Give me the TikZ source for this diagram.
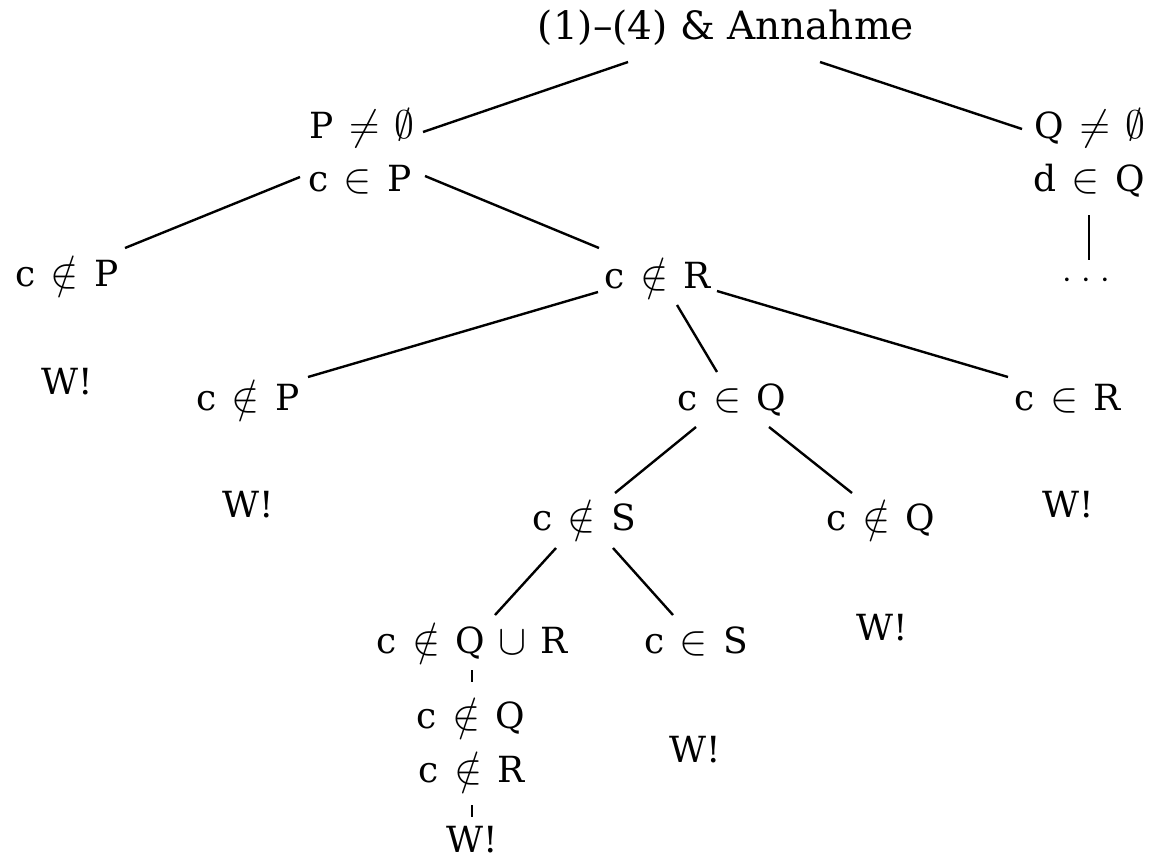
\documentclass[tikz,border=0pt]{standalone}
\usepackage{fontspec}
\setmainfont{DejaVu Serif}
\usetikzlibrary{calc}
\newcommand{\vr}[1]{\mathrm{#1}}
\newcommand{\bigsym}[1]{\raisebox{-0.05em}{\scalebox{1.22}{$#1$}}}
\newcommand{\Nin}{\mathrel{\,\bigsym{\notin}\,}}
\newcommand{\Iin}{\mathrel{\,\bigsym{\in}\,}}
\newcommand{\Neq}{\mathrel{\,\bigsym{\neq}\,}}
\newcommand{\Cup}{\mathbin{\,\bigsym{\cup}\,}}
\newcommand{\Empty}{\mathord{\scalebox{1.15}{$\emptyset$}}}
\begin{document}
\begin{tikzpicture}[x=0.5pt,y=-0.5pt,
  lab/.style={inner sep=0pt,anchor=base,font=\fontsize{18}{22}\selectfont},
  edge/.style={line width=1.2pt}]
\useasboundingbox (0,0) rectangle (1160,857);
% nodes
\node[lab,font=\fontsize{19.5}{23}\selectfont] (root) at (726,39) {(1)–(4) \& Annahme};
\node[lab] (pne) at (362,138) {$\vr{P}\Neq\Empty$};
\node[lab] (cp) at (360,191) {$\vr{c}\Iin\vr{P}$};
\node[lab] (qne) at (1090,138) {$\vr{Q}\Neq\Empty$};
\node[lab] (dq) at (1089,191) {$\vr{d}\Iin\vr{Q}$};
\node[lab] (dots) at (1086,288) {$\mathord{\cdot}\mkern5mu\mathord{\cdot}\mkern5mu\mathord{\cdot}$};
\node[lab] (cnp1) at (67,286) {$\vr{c}\Nin\vr{P}$};
\node[lab] (w1) at (67,394) {W!};
\node[lab] (cnr) at (658,288) {$\vr{c}\Nin\vr{R}$};
\node[lab] (cnp2) at (248,410) {$\vr{c}\Nin\vr{P}$};
\node[lab] (w2) at (248,517) {W!};
\node[lab] (cq) at (732,410) {$\vr{c}\Iin\vr{Q}$};
\node[lab] (cr) at (1068,410) {$\vr{c}\Iin\vr{R}$};
\node[lab] (w3) at (1068,517) {W!};
\node[lab] (cns) at (584,530) {$\vr{c}\Nin\vr{S}$};
\node[lab] (cnq) at (881,530) {$\vr{c}\Nin\vr{Q}$};
\node[lab] (w4) at (882,640) {W!};
\node[lab] (cnqr) at (472,653) {$\vr{c}\Nin\vr{Q}\Cup\vr{R}$};
\node[lab] (cs) at (696,653) {$\vr{c}\Iin\vr{S}$};
\node[lab] (w5) at (695,762) {W!};
\node[lab] (cnq2) at (471,728) {$\vr{c}\Nin\vr{Q}$};
\node[lab] (cnr2) at (472,782) {$\vr{c}\Nin\vr{R}$};
\node[lab] (w6) at (472,852) {W!};
% edges
\draw[edge] ($(root.base)+(-98,23)$) -- ($(pne.base)+(61,-6)$);
\draw[edge] ($(root.base)+(94,23)$) -- ($(qne.base)+(-68,-9)$);
\draw[edge] ($(cp.base)+(-60,-14)$) -- ($(cnp1.base)+(58,-38)$);
\draw[edge] ($(cp.base)+(65,-15)$) -- ($(cnr.base)+(-59,-40)$);
\draw[edge] ($(dq.base)+(0,24)$) -- ($(dots.base)+(3,-28)$);
\draw[edge] ($(cnr.base)+(-60,4)$) -- ($(cnp2.base)+(60,-33)$);
\draw[edge] ($(cnr.base)+(19,17)$) -- ($(cq.base)+(-15,-38)$);
\draw[edge] ($(cnr.base)+(59,3)$) -- ($(cr.base)+(-60,-33)$);
\draw[edge] ($(cq.base)+(-36,17)$) -- ($(cns.base)+(31,-37)$);
\draw[edge] ($(cq.base)+(37,17)$) -- ($(cnq.base)+(-29,-37)$);
\draw[edge] ($(cns.base)+(-28,18)$) -- ($(cnqr.base)+(23,-38)$);
\draw[edge] ($(cns.base)+(29,18)$) -- ($(cs.base)+(-23,-38)$);
\draw[edge] ($(cnqr.base)+(0,17)$) -- ($(cnq2.base)+(1,-46)$);
\draw[edge] ($(cnr2.base)+(0,23)$) -- ($(w6.base)+(0,-35)$);
\end{tikzpicture}
\end{document}
